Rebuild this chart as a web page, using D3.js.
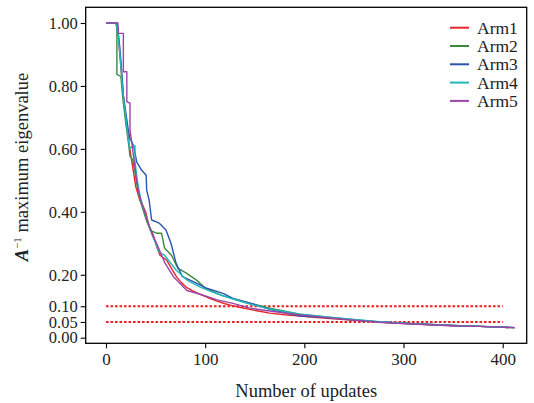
<!DOCTYPE html>
<html>
<head>
<meta charset="utf-8">
<script src="https://cdn.jsdelivr.net/npm/d3@7"></script>
<style>
  body { margin: 0; background: #fff; }
  text { font-family: "Liberation Serif", "Times New Roman", serif; fill: #222; }
</style>
</head>
<body>
<div id="chart"></div>
<script>
// series names and colours
const armNames = ["Arm1", "Arm2", "Arm3", "Arm4", "Arm5"];
const armColors = ["#e8262a", "#3a8a3e", "#2a55b0", "#20b8b8", "#9c45a8"];

// [number of updates, maximum eigenvalue]
const arm1 = [[0,1],[10,1],[12,0.97],[14,0.9],[16,0.82],[18,0.75],[20,0.7],[22,0.65],[24,0.6],[27,0.54],[30,0.48],
  [34,0.437],[37.6,0.416],[40,0.4],[43,0.36],[47.7,0.326],[51,0.29],[54.4,0.262],[61,0.247],[66,0.22],[71,0.194],
  [76,0.175],[81,0.16],[88,0.148],[95,0.138],[103,0.127],[112,0.116],[120,0.108],[128,0.101],[137,0.095],[145,0.09],
  [155,0.084],[165,0.078],[180,0.073],[196,0.069],[210,0.065],[226,0.061],[250,0.055],[276,0.049],[300,0.045],
  [327,0.041],[350,0.038],[377,0.036],[395,0.034],[412,0.032]];
const arm2 = [[0,1],[11,1],[11,0.837],[15,0.83],[17,0.76],[20,0.68],[23,0.61],[24.2,0.577],[27,0.565],[29,0.53],
  [32,0.47],[35,0.43],[38,0.4],[41,0.37],[45,0.34],[51,0.332],[56,0.332],[59,0.285],[66,0.262],[72.6,0.22],
  [81,0.205],[91.3,0.183],[101,0.155],[118,0.133],[145,0.11],[165,0.094],[195.6,0.075],[226,0.064],[250,0.057],
  [276,0.05],[300,0.046],[327,0.042],[350,0.039],[377,0.036],[412,0.032]];
const arm3 = [[0,1],[10,1],[12,0.98],[14,0.92],[16,0.84],[17.5,0.77],[22.2,0.666],[24,0.634],[27.9,0.61],[30.9,0.559],
  [36,0.532],[40.5,0.516],[41,0.469],[43.5,0.437],[46,0.374],[51.4,0.367],[54,0.363],[60.5,0.342],[65.5,0.3],
  [70.6,0.237],[77,0.194],[88,0.178],[101.5,0.157],[118,0.141],[128,0.125],[148,0.107],[168,0.088],[195.6,0.069],
  [226,0.063],[250,0.056],[276,0.05],[300,0.046],[327,0.042],[350,0.039],[377,0.036],[412,0.032]];
const arm4 = [[0,1],[10,1],[12,0.97],[14,0.9],[16,0.82],[18,0.75],[20,0.7],[22,0.64],[24,0.6],[27,0.61],[29.2,0.61],
  [29.2,0.56],[32,0.49],[35,0.44],[38,0.41],[42,0.37],[46,0.33],[50,0.3],[54,0.27],[59,0.262],[70.6,0.215],
  [81.6,0.183],[95,0.161],[112,0.139],[128,0.123],[145,0.107],[165,0.091],[195.6,0.075],[226,0.065],[250,0.058],
  [276,0.051],[300,0.046],[327,0.042],[350,0.039],[377,0.036],[412,0.032]];
const arm5 = [[0,1],[12,1],[12.5,0.967],[17.5,0.967],[17.5,0.845],[21,0.845],[21,0.75],[24.2,0.745],[24.2,0.66],
  [26,0.62],[28,0.57],[30,0.52],[33,0.46],[36,0.43],[40,0.39],[44,0.35],[47.7,0.321],[51,0.3],[59.5,0.237],
  [68,0.194],[81.6,0.15],[95,0.138],[112,0.12],[128,0.109],[145,0.094],[165,0.085],[195.6,0.072],[226,0.063],
  [250,0.056],[276,0.049],[300,0.045],[327,0.041],[350,0.038],[377,0.036],[412,0.032]];
const arms = [arm1, arm2, arm3, arm4, arm5];

// tick labels and threshold lines
const xTicks = [0, 100, 200, 300, 400];
const yTicks = [0, 0.05, 0.1, 0.2, 0.4, 0.6, 0.8, 1.0];
const thresholds = [0.1, 0.05];
const thresholdRange = [0, 400];

const W = 534, H = 403;
const box = { left: 85.7, right: 526.7, top: 7.3, bottom: 343.3 };

// scales
let x = d3.scaleLinear().domain([0, 400]).range([106, 502.7]);
let y = d3.scaleLinear().domain([0, 1]).range([337.7, 23]);

let svg = d3.select("#chart").append("svg")
    .attr("width", W)
    .attr("height", H);

// frame round the plot
svg.append("rect")
    .attr("x", box.left)
    .attr("y", box.top)
    .attr("width", box.right - box.left)
    .attr("height", box.bottom - box.top)
    .attr("fill", "none")
    .attr("stroke", "#000")
    .attr("stroke-width", 1.3);

// y axis
let yAxis = svg.append("g")
    .attr("transform", "translate(" + box.left + ",0)")
    .attr("font-family", "Liberation Serif")
    .call(d3.axisLeft(y).tickValues(yTicks).tickFormat(d3.format(".2f")).tickSize(5).tickPadding(3));
yAxis.select(".domain").remove();
yAxis.selectAll("text").style("font-size", "16.5px");
yAxis.selectAll("line").attr("stroke-width", 1.1);

// x axis
let xAxis = svg.append("g")
    .attr("transform", "translate(0," + box.bottom + ")")
    .attr("font-family", "Liberation Serif")
    .call(d3.axisBottom(x).tickValues(xTicks).tickFormat(d3.format("d")).tickSize(5).tickPadding(5));
xAxis.select(".domain").remove();
xAxis.selectAll("text").style("font-size", "17px");
xAxis.selectAll("line").attr("stroke-width", 1.1);

// axis titles
svg.append("text")
    .attr("x", (box.left + box.right) / 2)
    .attr("y", 397)
    .attr("text-anchor", "middle")
    .style("font-size", "18.5px")
    .text("Number of updates");

let ylab = svg.append("text")
    .attr("transform", "translate(28," + 167 + ") rotate(-90)")
    .attr("text-anchor", "middle")
    .style("font-size", "18.5px");
ylab.append("tspan").attr("font-style", "italic").attr("font-weight", "bold").text("A");
ylab.append("tspan").attr("dy", -7).style("font-size", "11px").text("\u22121");
ylab.append("tspan").attr("dy", 7).text(" maximum eigenvalue");

// red dotted thresholds
svg.selectAll(".thr")
    .data(thresholds)
    .enter().append("line")
    .attr("class", "thr")
    .attr("x1", x(thresholdRange[0]))
    .attr("x2", x(thresholdRange[1]))
    .attr("y1", d => y(d))
    .attr("y2", d => y(d))
    .attr("stroke", "#ee2020")
    .attr("stroke-width", 2)
    .attr("stroke-dasharray", "2.6,1.9");

// the five arms
let line = d3.line()
    .x(d => x(d[0]))
    .y(d => y(d[1]));

arms.forEach(function(data, i) {
    svg.append("path")
        .datum(data)
        .attr("fill", "none")
        .attr("stroke", armColors[i])
        .attr("stroke-width", 1.4)
        .attr("stroke-linejoin", "round")
        .attr("d", line);
});

// legend
let legend = svg.selectAll(".legend")
    .data(armNames)
    .enter().append("g")
    .attr("class", "legend")
    .attr("transform", (d, i) => "translate(450," + (27.7 + i * 18.3) + ")");

legend.append("line")
    .attr("x1", 0).attr("x2", 19)
    .attr("stroke", (d, i) => armColors[i])
    .attr("stroke-width", 2);

legend.append("text")
    .attr("x", 27)
    .attr("dy", "0.35em")
    .style("font-size", "17.5px")
    .text(d => d);
</script>
</body>
</html>
